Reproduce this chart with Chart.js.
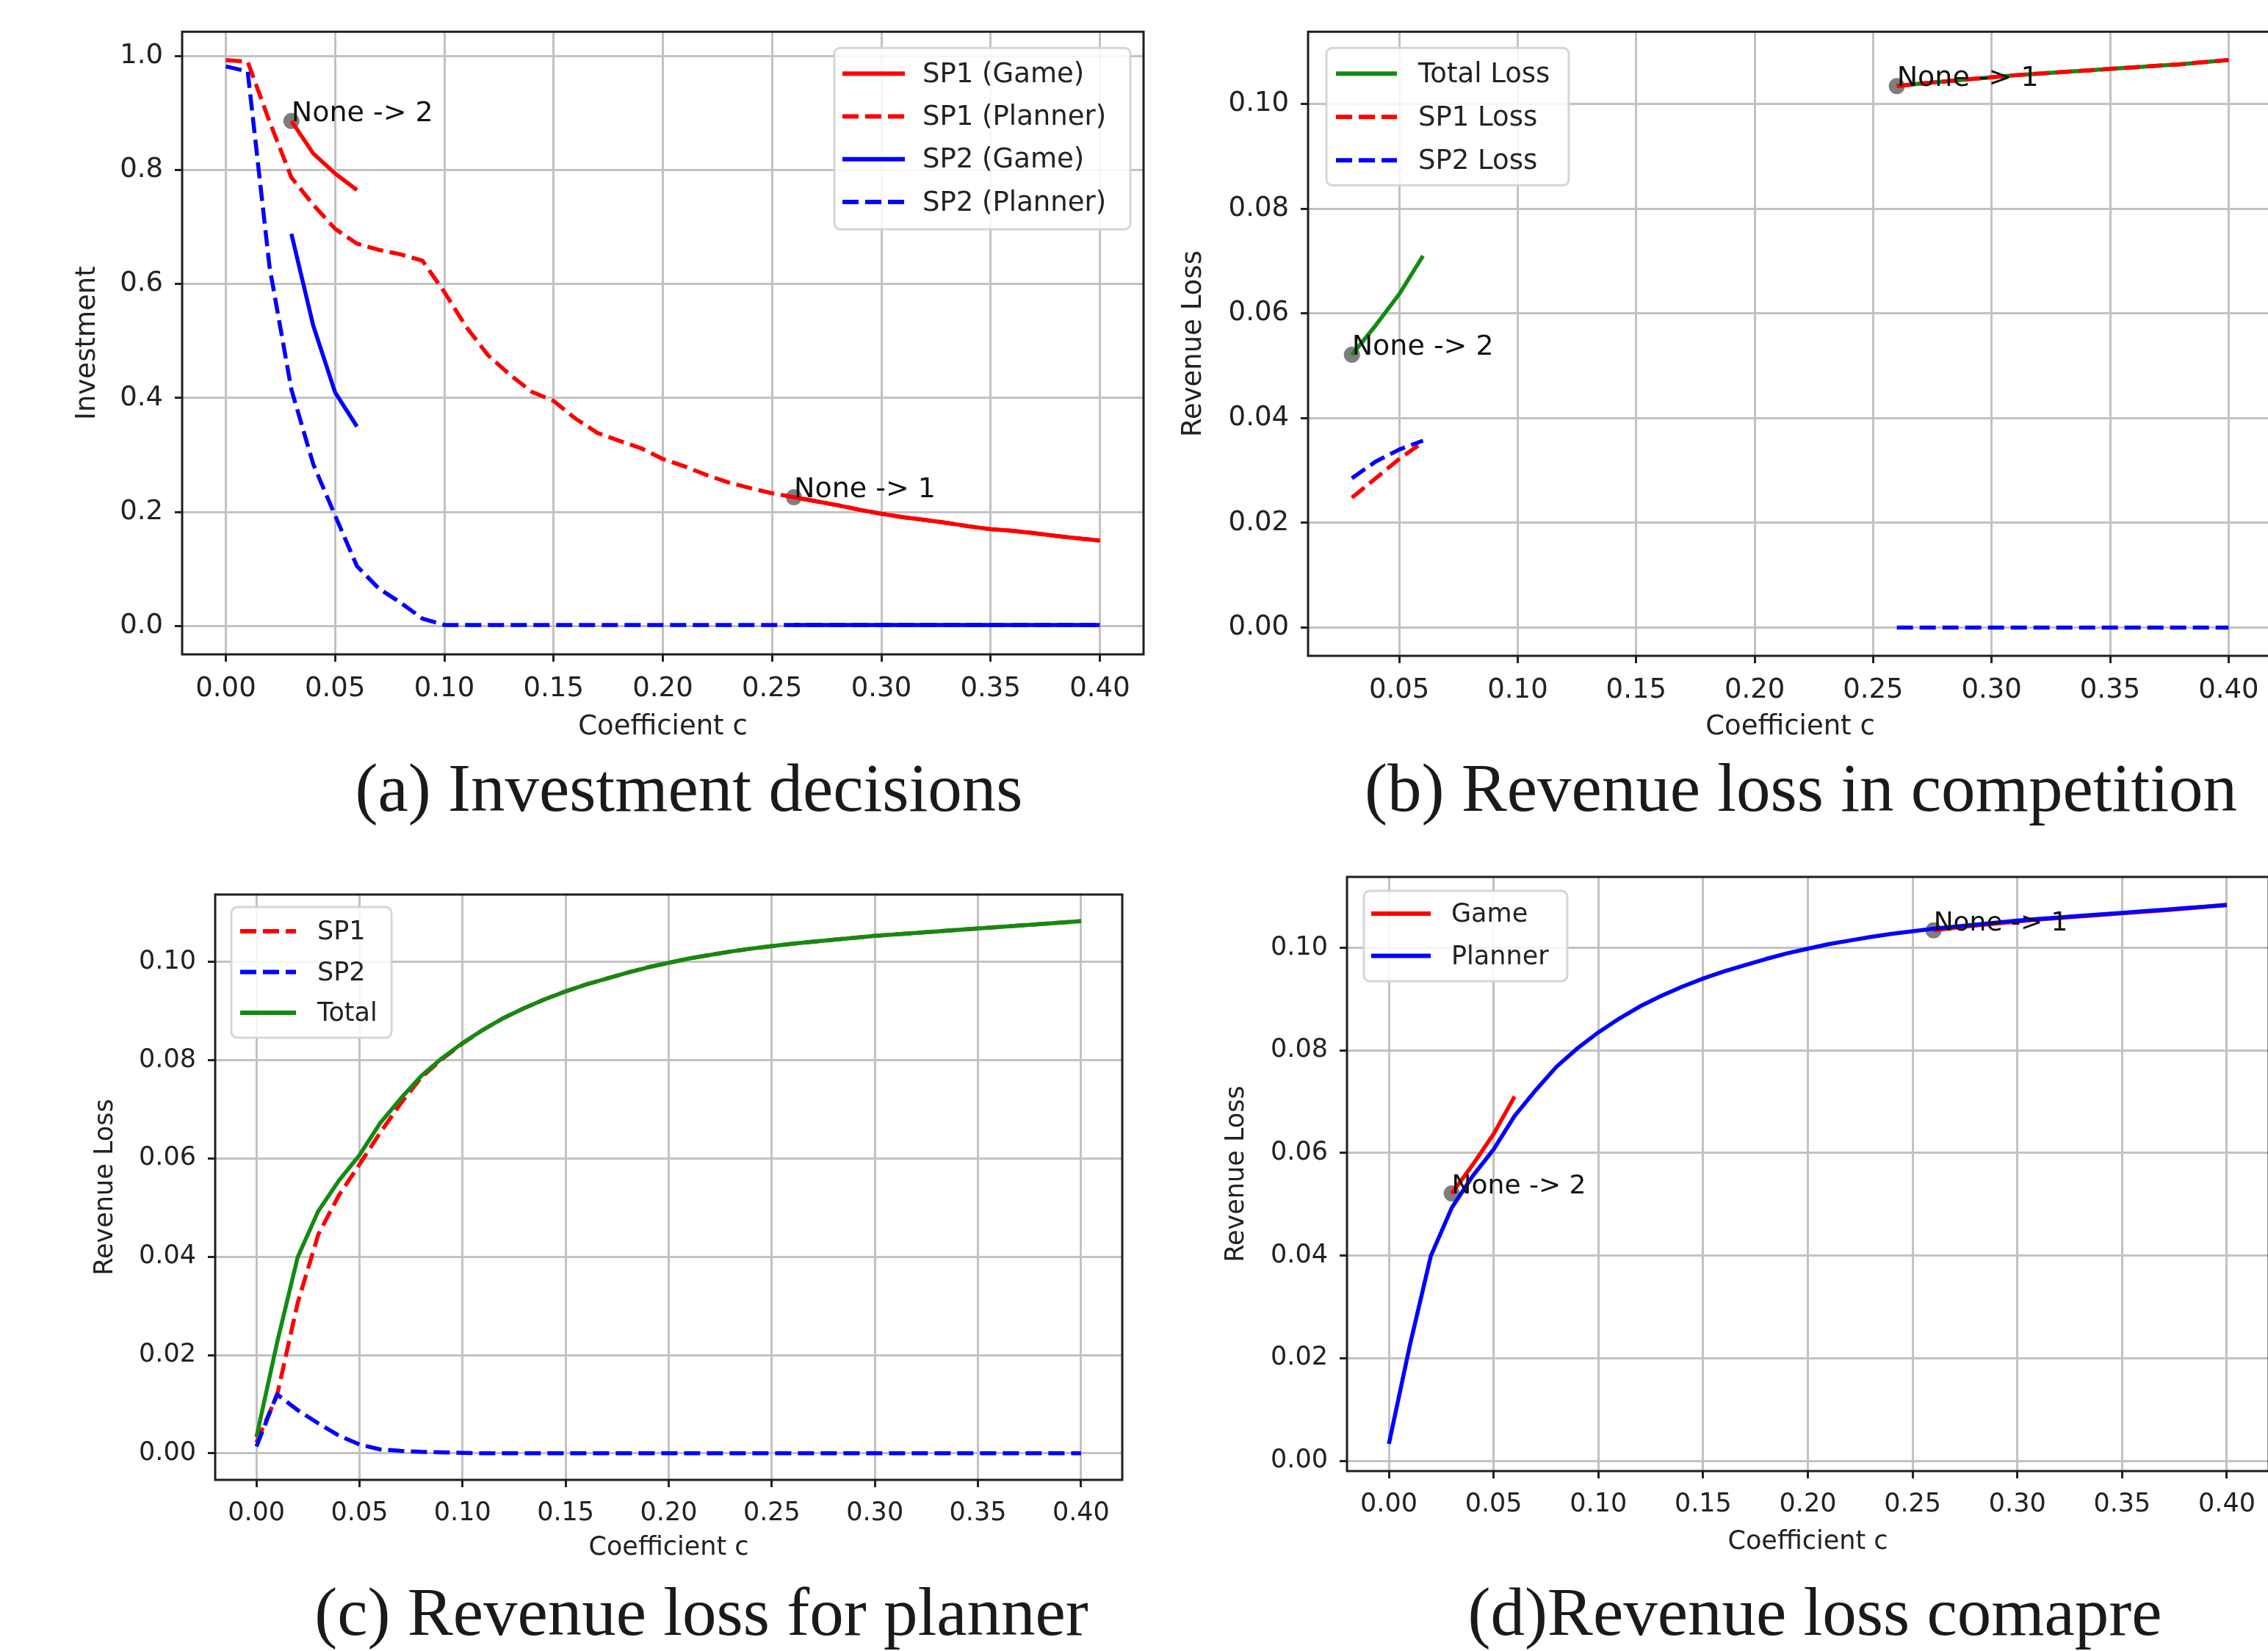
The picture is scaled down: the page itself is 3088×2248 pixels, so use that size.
<!DOCTYPE html>
<html>
<head>
<meta charset="utf-8">
<script src="https://cdn.jsdelivr.net/npm/chart.js@4/dist/chart.umd.min.js"></script>
<style>
  html, body { margin: 0; padding: 0; background: #fff; width: 3088px; height: 2248px; overflow: hidden; position: relative; }
  .cap { position: absolute; font-family: "Liberation Serif", "Times New Roman", serif; font-size: 93px; line-height: 93px;
         color: #1a1a1a; white-space: nowrap; transform: translateX(-50%); }
</style>
</head>
<body>
<div class="cap" style="left:938px;top:1026px">(a) Investment decisions</div>
<div class="cap" style="left:2452px;top:1026px">(b) Revenue loss in competition</div>
<div class="cap" style="left:955px;top:2148px">(c) Revenue loss for planner</div>
<div class="cap" style="left:2471px;top:2148px">(d)Revenue loss comapre</div>

<script>
// ── data ──
const cValues = [0.00,0.01,0.02,0.03,0.04,0.05,0.06,0.07,0.08,0.09,0.10,0.11,0.12,0.13,0.14,0.15,0.16,0.17,0.18,0.19,0.20,
                 0.21,0.22,0.23,0.24,0.25,0.26,0.27,0.28,0.29,0.30,0.31,0.32,0.33,0.34,0.35,0.36,0.37,0.38,0.39,0.40];
const xTicksFull = [0.00,0.05,0.10,0.15,0.20,0.25,0.30,0.35,0.40];
const xTicksB = [0.05,0.10,0.15,0.20,0.25,0.30,0.35,0.40];
const yTicksInvest = [0.0,0.2,0.4,0.6,0.8,1.0];
const yTicksLoss = [0.00,0.02,0.04,0.06,0.08,0.10];

// (a) investment
const sp1Game = [null,null,null,0.886,0.829,0.794,0.765,
  null,null,null,null,null,null,null,null,null,null,null,null,null,null,null,null,null,null,null,
  0.226,0.219,0.212,0.204,0.197,0.191,0.186,0.181,0.175,0.170,0.167,0.163,0.158,0.154,0.150];
const sp1Planner = [0.993,0.990,0.885,0.787,0.739,0.697,0.671,0.660,0.652,0.641,0.586,0.525,0.475,0.441,0.411,0.395,
  0.364,0.339,0.325,0.312,0.293,0.280,0.265,0.252,0.242,0.233,
  0.226,0.219,0.212,0.204,0.197,0.191,0.186,0.181,0.175,0.170,0.167,0.163,0.158,0.154,0.150];
const sp2Game = [null,null,null,0.688,0.527,0.410,0.350,
  null,null,null,null,null,null,null,null,null,null,null,null,null,null,null,null,null,null,null,
  0.002,0.002,0.002,0.002,0.002,0.002,0.002,0.002,0.002,0.002,0.002,0.002,0.002,0.002,0.002];
const sp2Planner = [0.982,0.973,0.630,0.415,0.284,0.194,0.105,0.066,0.041,0.013,
  0.002,0.002,0.002,0.002,0.002,0.002,0.002,0.002,0.002,0.002,0.002,0.002,0.002,0.002,0.002,0.002,
  0.002,0.002,0.002,0.002,0.002,0.002,0.002,0.002,0.002,0.002,0.002,0.002,0.002,0.002,0.002];

// (b) revenue loss in competition
const lossTotalGame = [null,null,null,0.0521,0.0577,0.0637,0.0710,
  null,null,null,null,null,null,null,null,null,null,null,null,null,null,null,null,null,null,null,
  0.1034,0.1039,0.1043,0.1047,0.1051,0.1055,0.1058,0.1061,0.1064,0.1067,0.1070,0.1073,0.1076,0.1080,0.1084];
const lossSp1Game = [null,null,null,0.0248,0.0285,0.0322,0.0354,
  null,null,null,null,null,null,null,null,null,null,null,null,null,null,null,null,null,null,null,
  0.1034,0.1039,0.1043,0.1047,0.1051,0.1055,0.1058,0.1061,0.1064,0.1067,0.1070,0.1073,0.1076,0.1080,0.1084];
const lossSp2Game = [null,null,null,0.0285,0.0317,0.0340,0.0357,
  null,null,null,null,null,null,null,null,null,null,null,null,null,null,null,null,null,null,null,
  0,0,0,0,0,0,0,0,0,0,0,0,0,0,0];

// (c) revenue loss for planner
const lossTotalPlanner = [0.0033,0.0225,0.0399,0.0493,0.0555,0.0607,0.0672,0.0722,0.0768,0.0804,0.0835,
  0.0862,0.0886,0.0906,0.0924,0.0940,0.0954,0.0966,0.0978,0.0989,0.0998,0.1007,0.1014,0.1021,0.1027,0.1032,
  0.1037,0.1041,0.1045,0.1049,0.1053,0.1056,0.1059,0.1062,0.1065,0.1068,0.1071,0.1074,0.1077,0.1080,0.1083];
const lossSp1Planner = [0.0022,0.0118,0.0306,0.0445,0.0525,0.0588,0.0652,0.0712,0.0765,0.0802,0.0834,
  0.0862,0.0886,0.0906,0.0924,0.0940,0.0954,0.0966,0.0978,0.0989,0.0998,0.1007,0.1014,0.1021,0.1027,0.1032,
  0.1037,0.1041,0.1045,0.1049,0.1053,0.1056,0.1059,0.1062,0.1065,0.1068,0.1071,0.1074,0.1077,0.1080,0.1083];
const lossSp2Planner = [0.0014,0.0120,0.0088,0.0061,0.0036,0.0018,0.0008,0.0005,0.0003,0.0002,0.0001,
  0,0,0,0,0,0,0,0,0,0,0,0,0,0,0,0,0,0,0,0,0,0,0,0,0,0,0,0,0,0];

// switch points
const notesA = [{x: 0.03, y: 0.886, text: 'None -> 2'}, {x: 0.26, y: 0.226, text: 'None -> 1'}];
const notesB = [{x: 0.03, y: 0.0521, text: 'None -> 2'}, {x: 0.26, y: 0.1034, text: 'None -> 1'}];

// ── drawing ──
const RED = '#ff0000', BLUE = '#0000ff', GREEN = '#138a13';
const DASH = [22, 9];
const INK = '#222';

const pts = arr => cValues.map((c, i) => ({x: c, y: arr[i]}));

function decor(p) {
  return {
    id: 'decor',
    afterDatasetsDraw(chart) {
      const ctx = chart.ctx, a = chart.chartArea, sx = chart.scales.x, sy = chart.scales.y;
      ctx.save();
      // annotations
      ctx.fillStyle = '#111';
      ctx.font = p.noteSize + 'px "DejaVu Sans"';
      ctx.textAlign = 'left';
      ctx.textBaseline = 'alphabetic';
      (p.notes || []).forEach(n => ctx.fillText(n.text, sx.getPixelForValue(n.x), sy.getPixelForValue(n.y)));
      // frame
      ctx.strokeStyle = '#1e1e1e';
      ctx.lineWidth = 3;
      ctx.strokeRect(a.left, a.top, a.right - a.left, a.bottom - a.top);
      // legend
      const lg = p.legend, x0 = a.left + lg.dx, y0 = a.top + lg.dy;
      ctx.beginPath();
      ctx.roundRect(x0, y0, lg.w, lg.h, 8);
      ctx.fillStyle = 'rgba(255,255,255,0.85)';
      ctx.fill();
      ctx.strokeStyle = 'rgba(210,210,210,0.9)';
      ctx.lineWidth = 3;
      ctx.stroke();
      const items = chart.data.datasets.filter(d => d.type !== 'scatter');
      items.forEach((d, i) => {
        const y = y0 + lg.row0 + i * lg.gap;
        ctx.beginPath();
        ctx.setLineDash(d.borderDash || []);
        ctx.strokeStyle = d.borderColor;
        ctx.lineWidth = 6;
        ctx.moveTo(x0 + lg.l0, y);
        ctx.lineTo(x0 + lg.l1, y);
        ctx.stroke();
        ctx.setLineDash([]);
        ctx.fillStyle = INK;
        ctx.font = p.fs + 'px "DejaVu Sans"';
        ctx.textBaseline = 'middle';
        ctx.fillText(d.label, x0 + lg.tx, y + 2);
      });
      ctx.restore();
    }
  };
}

function buildPanel(p) {
  const left = Math.round(p.yTitleX - 0.6 * p.fs);
  const top = Math.round(p.area[1] - 30);
  const right = Math.round(p.area[2] + 30);
  const bottom = Math.round(p.xTitleY + 0.6 * p.fs);
  const W = right - left, H = bottom - top;
  const yw = p.area[0] - left, xh = bottom - p.area[3];

  const cv = document.createElement('canvas');
  cv.width = W; cv.height = H;
  cv.style.cssText = `position:absolute;left:${left}px;top:${top}px;width:${W}px;height:${H}px`;
  document.body.appendChild(cv);

  const n = p.series.length;
  const datasets = p.series.map((s, i) => ({
    label: s.label, data: pts(s.values),
    borderColor: s.color, backgroundColor: s.color,
    borderWidth: 5.5, borderDash: s.dashed ? DASH : [],
    borderJoinStyle: 'round', pointRadius: 0, spanGaps: false,
    order: n - i
  }));
  if (p.notes) {
    datasets.push({
      type: 'scatter', label: 'switch', data: p.notes.map(d => ({x: d.x, y: d.y})),
      pointRadius: 11, backgroundColor: 'rgba(112,112,112,0.9)', borderWidth: 0, order: 99
    });
  }

  const tickFont = {family: 'DejaVu Sans', size: p.fs};
  const titleFont = {family: 'DejaVu Sans', size: p.fs, lineHeight: 1.2};
  const grid = {color: '#c2c2c2', lineWidth: 3, drawTicks: true, tickLength: 10, tickColor: INK, tickWidth: 3};

  new Chart(cv, {
    type: 'line',
    data: {datasets},
    options: {
      responsive: false, animation: false, devicePixelRatio: 1,
      layout: {padding: {top: p.area[1] - top, right: right - p.area[2], left: 0, bottom: 0}},
      plugins: {legend: {display: false}, tooltip: {enabled: false}},
      scales: {
        x: {
          type: 'linear', min: p.xRange[0], max: p.xRange[1],
          afterBuildTicks: s => { s.ticks = p.xTicks.map(v => ({value: v})); },
          afterFit: s => { s.height = xh; },
          ticks: {callback: v => v.toFixed(2), font: tickFont, color: INK, padding: 15, maxRotation: 0, autoSkip: false},
          grid, border: {display: false},
          title: {display: true, text: 'Coefficient c', font: titleFont, color: INK, padding: 0}
        },
        y: {
          type: 'linear', min: p.yRange[0], max: p.yRange[1],
          afterBuildTicks: s => { s.ticks = p.yTicks.map(v => ({value: v})); },
          afterFit: s => { s.width = yw; },
          ticks: {callback: v => v.toFixed(p.yDigits), font: tickFont, color: INK, padding: 16, autoSkip: false},
          grid, border: {display: false},
          title: {display: true, text: p.yTitle, font: titleFont, color: INK, padding: 0}
        }
      }
    },
    plugins: [decor(p)]
  });
}

buildPanel({
  area: [248, 35, 1557, 891], yTitleX: 119, xTitleY: 991, fs: 37, noteSize: 38,
  xRange: [-0.02, 0.42], yRange: [-0.0497, 1.0427], xTicks: xTicksFull, yTicks: yTicksInvest, yDigits: 1,
  yTitle: 'Investment',
  series: [
    {label: 'SP1 (Game)', values: sp1Game, color: RED},
    {label: 'SP1 (Planner)', values: sp1Planner, color: RED, dashed: true},
    {label: 'SP2 (Game)', values: sp2Game, color: BLUE},
    {label: 'SP2 (Planner)', values: sp2Planner, color: BLUE, dashed: true}
  ],
  notes: notesA,
  legend: {dx: 888, dy: 22, w: 403, h: 247, row0: 35, gap: 58.3, l0: 11, l1: 96, tx: 120}
});

buildPanel({
  area: [1781, 35, 3094, 893], yTitleX: 1625, xTitleY: 991, fs: 37, noteSize: 38,
  xRange: [0.0115, 0.4185], yRange: [-0.0054, 0.1138], xTicks: xTicksB, yTicks: yTicksLoss, yDigits: 2,
  yTitle: 'Revenue Loss',
  series: [
    {label: 'Total Loss', values: lossTotalGame, color: GREEN},
    {label: 'SP1 Loss', values: lossSp1Game, color: RED, dashed: true},
    {label: 'SP2 Loss', values: lossSp2Game, color: BLUE, dashed: true}
  ],
  notes: notesB,
  legend: {dx: 25, dy: 22, w: 330, h: 187, row0: 35, gap: 59, l0: 13, l1: 96, tx: 125}
});

buildPanel({
  area: [293, 1211, 1528, 2015], yTitleX: 144, xTitleY: 2108, fs: 35, noteSize: 36,
  xRange: [-0.02, 0.42], yRange: [-0.0054, 0.1137], xTicks: xTicksFull, yTicks: yTicksLoss, yDigits: 2,
  yTitle: 'Revenue Loss',
  series: [
    {label: 'SP1', values: lossSp1Planner, color: RED, dashed: true},
    {label: 'SP2', values: lossSp2Planner, color: BLUE, dashed: true},
    {label: 'Total', values: lossTotalPlanner, color: GREEN}
  ],
  legend: {dx: 22, dy: 17, w: 218, h: 178, row0: 33, gap: 55.5, l0: 12, l1: 88, tx: 117}
});

buildPanel({
  area: [1834, 1187, 3089, 2003], yTitleX: 1684, xTitleY: 2100, fs: 35, noteSize: 36,
  xRange: [-0.02, 0.42], yRange: [-0.0020, 0.1138], xTicks: xTicksFull, yTicks: yTicksLoss, yDigits: 2,
  yTitle: 'Revenue Loss',
  series: [
    {label: 'Game', values: lossTotalGame, color: RED},
    {label: 'Planner', values: lossTotalPlanner, color: BLUE}
  ],
  notes: notesB,
  legend: {dx: 23, dy: 19, w: 277, h: 123, row0: 31, gap: 57.5, l0: 10, l1: 91, tx: 119}
});
</script>
</body>
</html>
